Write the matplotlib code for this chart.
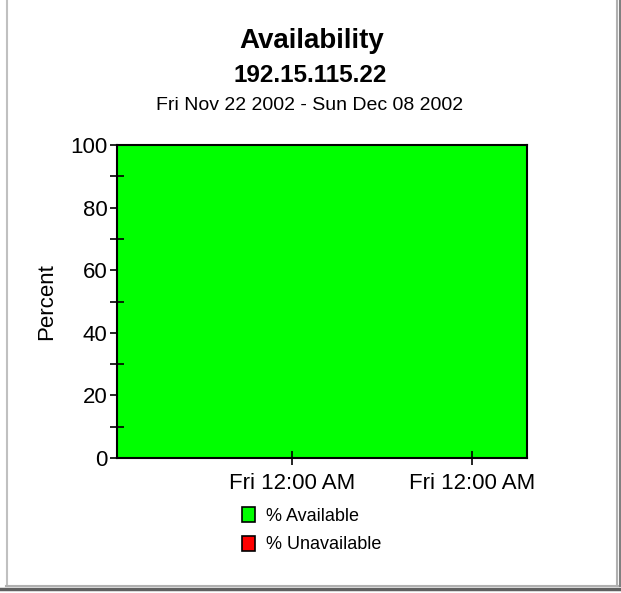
import matplotlib
matplotlib.use("Agg")
import matplotlib.pyplot as plt
import matplotlib.dates as mdates
from matplotlib.patches import Patch
from matplotlib.lines import Line2D
import pandas as pd

plt.rcParams['font.family'] = ['Liberation Sans', 'DejaVu Sans']

# ---- data ----
timestamps = ["2002-11-22 05:00", "2002-11-23 00:00", "2002-11-24 00:00", "2002-11-25 00:00",
              "2002-11-26 00:00", "2002-11-27 00:00", "2002-11-28 00:00", "2002-11-29 00:00",
              "2002-11-30 00:00", "2002-12-01 00:00", "2002-12-02 00:00", "2002-12-03 00:00",
              "2002-12-04 00:00", "2002-12-05 00:00", "2002-12-06 00:00", "2002-12-07 00:00",
              "2002-12-08 03:00"]
pct_available = [100, 100, 100, 100, 100, 100, 100, 100, 100, 100, 100, 100, 100, 100, 100, 100, 100]
pct_unavailable = [0, 0, 0, 0, 0, 0, 0, 0, 0, 0, 0, 0, 0, 0, 0, 0, 0]
series_labels = ["% Available", "% Unavailable"]
series_colors = ["#00FF00", "#FF0000"]
title = "Availability"
subtitle1 = "192.15.115.22"
subtitle2 = "Fri Nov 22 2002 - Sun Dec 08 2002"
y_label = "Percent"

t = pd.to_datetime(timestamps)

W, H = 621, 593
fig = plt.figure(figsize=(W / 100, H / 100), dpi=100)
fig.patch.set_facecolor("white")

ax = fig.add_axes([117 / W, 1 - 458 / H, 410 / W, 313 / H])
ax.stackplot(t, pct_available, pct_unavailable, colors=series_colors, linewidth=0)
ax.set_xlim(t[0], t[-1])
ax.set_ylim(0, 100)
ax.set_facecolor("white")
for s in ax.spines.values():
    s.set_linewidth(1.5)
    s.set_color("black")

ax.set_yticks([0, 20, 40, 60, 80, 100])
ax.set_yticks([10, 30, 50, 70, 90], minor=True)
ax.tick_params(axis='y', which='major', direction='out', length=5, width=1.2, labelsize=16, pad=2)
ax.tick_params(axis='y', which='minor', direction='inout', length=10, width=1.2)
ax.xaxis.set_major_locator(mdates.WeekdayLocator(byweekday=mdates.FR))
ax.xaxis.set_major_formatter(mdates.DateFormatter("%a %I:%M %p"))
ax.tick_params(axis='x', which='major', direction='inout', length=10, width=1.2, labelsize=16, pad=6)
ax.set_ylabel(y_label, fontsize=16, labelpad=9)

fig.text(312 / W, 1 - 41 / H, title, ha='center', va='center', fontsize=20, fontweight='bold')
fig.text(310 / W, 1 - 75 / H, subtitle1, ha='center', va='center', fontsize=17.5, fontweight='bold')
fig.text(310 / W, 1 - 105 / H, subtitle2, ha='center', va='center', fontsize=14)

handles = [Patch(facecolor=c, edgecolor='black', linewidth=1.2) for c in series_colors]
fig.legend(handles, series_labels, loc='upper left', bbox_to_anchor=(242 / W, 1 - 507 / H),
           frameon=False, fontsize=13, handlelength=0.7, handleheight=0.9,
           handletextpad=0.65, labelspacing=0.6, borderaxespad=0, borderpad=0)

# window-like frame
fig.add_artist(Line2D([6.5 / W, 6.5 / W], [1 - 586 / H, 1], transform=fig.transFigure, color="#c0c0c0", lw=1.5))
fig.add_artist(Line2D([617 / W, 617 / W], [1 - 586 / H, 1], transform=fig.transFigure, color="#b0b0b0", lw=1.5))
fig.add_artist(Line2D([619.5 / W, 619.5 / W], [1 - 586 / H, 1], transform=fig.transFigure, color="#808080", lw=1.5))
fig.add_artist(Line2D([6 / W, 618 / W], [1 - 585.5 / H, 1 - 585.5 / H], transform=fig.transFigure, color="#b0b0b0", lw=1.5))
fig.add_artist(Line2D([0, 1], [1 - 588.5 / H, 1 - 588.5 / H], transform=fig.transFigure, color="#606060", lw=2.5))

fig.savefig("out.png", dpi=100)
